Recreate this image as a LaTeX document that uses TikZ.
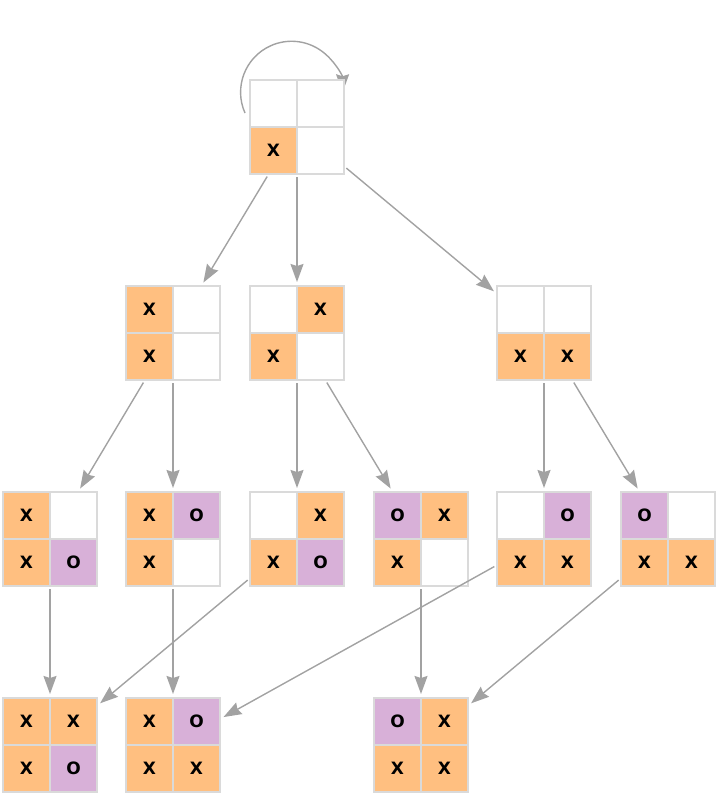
\documentclass[tikz,border=0pt]{standalone}
\usepackage{fontspec}
\setmainfont{DejaVu Sans}
\usepackage{tikz}
\usetikzlibrary{arrows.meta,positioning,fit,backgrounds}
\definecolor{xfill}{HTML}{FFBF80}
\definecolor{ofill}{HTML}{D8B0D8}
\definecolor{gridgray}{HTML}{DADADA}
\definecolor{edgegray}{HTML}{A2A2A2}
\tikzset{
  cell/.style  ={draw=gridgray,line width=1.6pt,minimum size=47pt,inner sep=0pt,
                 outer sep=0pt,font=\bfseries\fontsize{17}{17}\selectfont},
  cell-/.style ={cell,fill=white},
  cell-X/.style={cell,fill=xfill},
  cell-O/.style={cell,fill=ofill},
  board/.style ={inner sep=0pt,outer sep=0pt},
  move/.style  ={-{Stealth[length=18pt,width=13pt,inset=2pt]},line width=1.4pt,
                 draw=edgegray,shorten <=3pt,shorten >=4pt}
}
% one 2x2 board: name, top left corner, then the four cells
\newcommand{\board}[6]{%
  \node[cell-#3,anchor=north west] (#1-tl) at (#2) {#3};
  \node[cell-#4,right=0pt of #1-tl] (#1-tr) {#4};
  \node[cell-#5,below=0pt of #1-tl] (#1-bl) {#5};
  \node[cell-#6,right=0pt of #1-bl] (#1-br) {#6};
  \node[board,fit=(#1-tl)(#1-br)] (#1) {};
}
\begin{document}
\begin{tikzpicture}[x=1pt,y=-1pt]
  \useasboundingbox (0,0) rectangle (720,796);
  \board{root}{250,80}{}{}{X}{}
  % first X moves
  \board{col}{126,286}{X}{}{X}{}
  \board{diag}{250,286}{}{X}{X}{}
  \board{row}{497,286}{}{}{X}{X}
  % O answers
  \board{colo}{3,492}{X}{}{X}{O}
  \board{colt}{126,492}{X}{O}{X}{}
  \board{diago}{250,492}{}{X}{X}{O}
  \board{diagt}{374,492}{O}{X}{X}{}
  \board{rowo}{497,492}{}{O}{X}{X}
  \board{rowt}{621,492}{O}{}{X}{X}
  % full boards
  \board{fulla}{3,698}{X}{X}{X}{O}
  \board{fullb}{126,698}{X}{O}{X}{X}
  \board{fullc}{374,698}{O}{X}{X}{X}
  \begin{scope}[on background layer]
    \draw[move,shorten <=0pt,shorten >=0pt] ([shift={(-5pt,14pt)}]root.west)
      arc[start angle=204,end angle=0,radius=51pt];
  \end{scope}
  \draw[move] (root) -- (col);
  \draw[move] (root) -- (diag);
  \draw[move] (root) -- (row);
  \draw[move] (col) -- (colo);
  \draw[move] (col) -- (colt);
  \draw[move] (diag) -- (diago);
  \draw[move] (diag) -- (diagt);
  \draw[move] (row) -- (rowo);
  \draw[move] (row) -- (rowt);
  \draw[move] (colo) -- (fulla);
  \draw[move] (colt) -- (fullb);
  \draw[move] (diago) -- (fulla);
  \draw[move] (diagt) -- (fullc);
  \draw[move] (rowo) -- (fullb);
  \draw[move] (rowt) -- (fullc);
\end{tikzpicture}
\end{document}
